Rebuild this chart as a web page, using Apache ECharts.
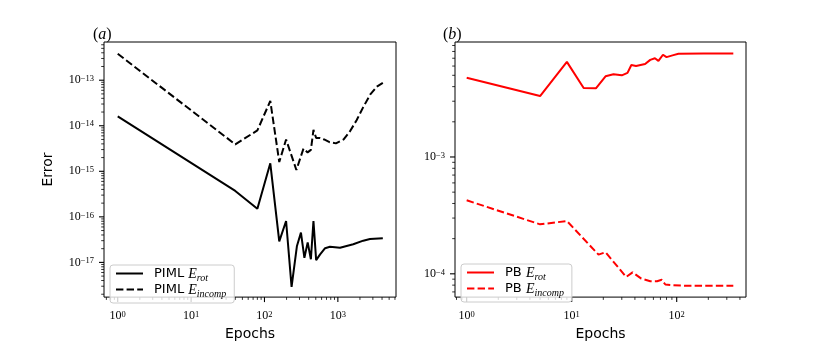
<!DOCTYPE html>
<html>
<head>
<meta charset="utf-8">
<script src="https://cdn.jsdelivr.net/npm/echarts@6/dist/echarts.min.js"></script>
<style>
  html, body { margin: 0; padding: 0; background: #fff; }
  #chart { width: 830px; height: 346px; }
</style>
</head>
<body>
<div id="chart"></div>
<script>
// (a) PIML errors vs epochs
var pimlRotEpochs = [1, 40, 80, 120, 159, 197, 234, 277, 314, 350, 388, 429, 465, 506, 573, 670, 780, 1070, 1620, 2220, 2740, 4100];
var pimlRotError = [1.6e-14, 3.7e-16, 1.5e-16, 1.5e-15, 2.9e-17, 8.1e-17, 2.9e-18, 2.3e-17, 4.5e-17, 1.26e-17, 2.75e-17, 1.17e-17, 8.1e-17, 1.12e-17, 1.5e-17, 2.05e-17, 2.2e-17, 2.1e-17, 2.5e-17, 3.0e-17, 3.25e-17, 3.4e-17];
var pimlIncEpochs = [1, 40, 80, 120, 159, 197, 272, 340, 387, 429, 465, 506, 573, 650, 770, 940, 1200, 1450, 1800, 2200, 2750, 3400, 4100];
var pimlIncError = [3.8e-13, 3.9e-15, 7.9e-15, 3.5e-14, 1.6e-15, 5.0e-15, 1.07e-15, 3.15e-15, 2.6e-15, 2.95e-15, 8.1e-15, 5.4e-15, 5.4e-15, 5.0e-15, 4.35e-15, 4.1e-15, 5.0e-15, 7.4e-15, 1.32e-14, 2.5e-14, 4.8e-14, 7.2e-14, 8.7e-14];

// (b) PB errors vs epochs
var pbRotEpochs = [1, 5, 9, 13, 17, 21, 25, 30, 34, 37, 41, 50, 56, 62, 67, 74, 80, 93, 104, 180, 346];
var pbRotError = [4.76e-3, 3.32e-3, 6.52e-3, 3.9e-3, 3.87e-3, 4.9e-3, 5.1e-3, 5.0e-3, 5.24e-3, 6.12e-3, 6.0e-3, 6.24e-3, 6.78e-3, 7.0e-3, 6.64e-3, 7.5e-3, 7.16e-3, 7.44e-3, 7.64e-3, 7.7e-3, 7.69e-3];
var pbIncEpochs = [1, 5, 9, 18, 21, 33, 38, 46, 56, 65, 72, 78, 93, 124, 346];
var pbIncError = [4.26e-4, 2.65e-4, 2.83e-4, 1.46e-4, 1.53e-4, 9.4e-5, 1.03e-4, 9.1e-5, 8.65e-5, 8.65e-5, 8.9e-5, 8.1e-5, 8.0e-5, 7.9e-5, 7.9e-5];

// axis ranges
var xRangeA = [0.65, 6200], yRangeA = [1.73e-18, 6.9e-13];
var xRangeB = [0.774, 457], yRangeB = [6.32e-5, 9.64e-3];

var chart = echarts.init(document.getElementById('chart'));

function pairs(xs, ys) {
  var out = [];
  for (var i = 0; i < xs.length; i++) out.push([xs[i], ys[i]]);
  return out;
}

function powLabel(v) {
  var e = Math.log10(v);
  var r = Math.round(e);
  if (Math.abs(e - r) > 1e-6) return '';
  return '{b|10}{s|' + (r < 0 ? '\u2212' + (-r) : r) + '}';
}

var powRich = {
  b: { fontFamily: 'Liberation Serif', fontSize: 12, color: '#000', lineHeight: 12, padding: [4, 0, 0, 0], verticalAlign: 'bottom' },
  s: { fontFamily: 'Liberation Serif', fontSize: 8.5, color: '#000', lineHeight: 9, verticalAlign: 'top' }
};

function legendLabel(name) {
  var parts = name.split(' E_');
  return '{t|' + parts[0] + ' }{e|E}{u|' + parts[1] + '}';
}

var legendRich = {
  t: { fontFamily: 'DejaVu Sans', fontSize: 13, color: '#000', lineHeight: 13, padding: [0, 0, 0, 6], verticalAlign: 'top' },
  e: { fontFamily: 'Liberation Serif', fontStyle: 'italic', fontSize: 14, color: '#000', lineHeight: 13, verticalAlign: 'top' },
  u: { fontFamily: 'Liberation Serif', fontStyle: 'italic', fontSize: 10, color: '#000', lineHeight: 10, padding: [6, 0, 0, 0], verticalAlign: 'top' }
};

var panelRich = {
  p: { fontFamily: 'Liberation Serif', fontWeight: 'normal', fontSize: 16, color: '#000' },
  i: { fontFamily: 'Liberation Serif', fontWeight: 'normal', fontStyle: 'italic', fontSize: 16, color: '#000' }
};

function xAxisOpt(idx, range, split) {
  return {
    type: 'log', logBase: 10, gridIndex: idx, min: range[0], max: range[1], splitNumber: split,
    name: 'Epochs', nameLocation: 'middle', nameGap: 28,
    nameTextStyle: { fontFamily: 'DejaVu Sans', fontSize: 14, color: '#000' },
    axisLine: { show: false }, axisTick: { show: false }, splitLine: { show: false },
    axisLabel: { margin: 13, formatter: powLabel, rich: powRich, hideOverlap: false }
  };
}

function yAxisOpt(idx, range, split, name) {
  return {
    type: 'log', logBase: 10, gridIndex: idx, min: range[0], max: range[1], splitNumber: split,
    name: name, nameLocation: 'middle', nameGap: 49, nameRotate: 90,
    nameTextStyle: { fontFamily: 'DejaVu Sans', fontSize: 14, color: '#000' },
    axisLine: { show: false }, axisTick: { show: false }, splitLine: { show: false },
    axisLabel: { margin: 10, formatter: powLabel, rich: powRich, hideOverlap: false }
  };
}

function lineSeries(name, idx, xs, ys, color, dashed) {
  return {
    name: name, type: 'line', xAxisIndex: idx, yAxisIndex: idx,
    data: pairs(xs, ys), symbol: 'none', animation: false,
    lineStyle: { color: color, width: 2, type: dashed ? [7.4, 3.2] : 'solid' },
    itemStyle: { color: color }
  };
}

function legendOpt(names, left, top) {
  return {
    data: names, orient: 'vertical', left: left, top: top,
    itemWidth: 27, itemHeight: 0.1, itemGap: 0,
    padding: [2, 8, 4, 5],
    borderColor: '#cccccc', borderWidth: 1, borderRadius: 3,
    backgroundColor: 'rgba(255,255,255,0.8)',
    formatter: legendLabel,
    textStyle: { rich: legendRich }
  };
}

var option = {
  backgroundColor: '#ffffff',
  animation: false,
  title: [
    { text: '{p|(}{i|a}{p|)}', left: 88, top: 22, textStyle: { fontWeight: 'normal', rich: panelRich } },
    { text: '{p|(}{i|b}{p|)}', left: 438, top: 22, textStyle: { fontWeight: 'normal', rich: panelRich } }
  ],
  grid: [
    { left: 104, top: 42, width: 292, height: 265, show: true, borderColor: '#000', borderWidth: 1, backgroundColor: 'transparent' },
    { left: 455, top: 42, width: 291, height: 265, show: true, borderColor: '#000', borderWidth: 1, backgroundColor: 'transparent' }
  ],
  xAxis: [xAxisOpt(0, xRangeA, 5), xAxisOpt(1, xRangeB, 3)],
  yAxis: [yAxisOpt(0, yRangeA, 5, 'Error'), yAxisOpt(1, yRangeB, 2, '')],
  legend: [
    legendOpt(['PIML E_rot', 'PIML E_incomp'], 110, 265),
    legendOpt(['PB E_rot', 'PB E_incomp'], 461, 264)
  ],
  series: [
    lineSeries('PIML E_rot', 0, pimlRotEpochs, pimlRotError, '#000000', false),
    lineSeries('PIML E_incomp', 0, pimlIncEpochs, pimlIncError, '#000000', true),
    lineSeries('PB E_rot', 1, pbRotEpochs, pbRotError, '#ff0000', false),
    lineSeries('PB E_incomp', 1, pbIncEpochs, pbIncError, '#ff0000', true)
  ]
};

chart.setOption(option);

// matplotlib-style major/minor log ticks, placed through the axes' own scales
function logTicks(g, xr, yr) {
  var els = [];
  var corner = chart.convertToPixel({ xAxisIndex: g, yAxisIndex: g }, [xr[0], yr[0]]);
  var left = corner[0], bottom = corner[1];
  var n, m, v, p, len, w;
  for (n = Math.floor(Math.log10(xr[0])); n <= Math.ceil(Math.log10(xr[1])); n++) {
    for (m = 1; m <= 9; m++) {
      v = m * Math.pow(10, n);
      if (v < xr[0] || v > xr[1]) continue;
      p = chart.convertToPixel({ xAxisIndex: g }, v);
      len = m === 1 ? 5 : 2.8;
      w = m === 1 ? 1.1 : 0.8;
      els.push({ type: 'line', shape: { x1: p, y1: bottom, x2: p, y2: bottom + len }, style: { stroke: '#000', lineWidth: w }, silent: true });
    }
  }
  for (n = Math.floor(Math.log10(yr[0])); n <= Math.ceil(Math.log10(yr[1])); n++) {
    for (m = 1; m <= 9; m++) {
      v = m * Math.pow(10, n);
      if (v < yr[0] || v > yr[1]) continue;
      p = chart.convertToPixel({ yAxisIndex: g }, v);
      len = m === 1 ? 5 : 2.8;
      w = m === 1 ? 1.1 : 0.8;
      els.push({ type: 'line', shape: { x1: left - len, y1: p, x2: left, y2: p }, style: { stroke: '#000', lineWidth: w }, silent: true });
    }
  }
  return els;
}

chart.setOption({ graphic: logTicks(0, xRangeA, yRangeA).concat(logTicks(1, xRangeB, yRangeB)) });
</script>
</body>
</html>
